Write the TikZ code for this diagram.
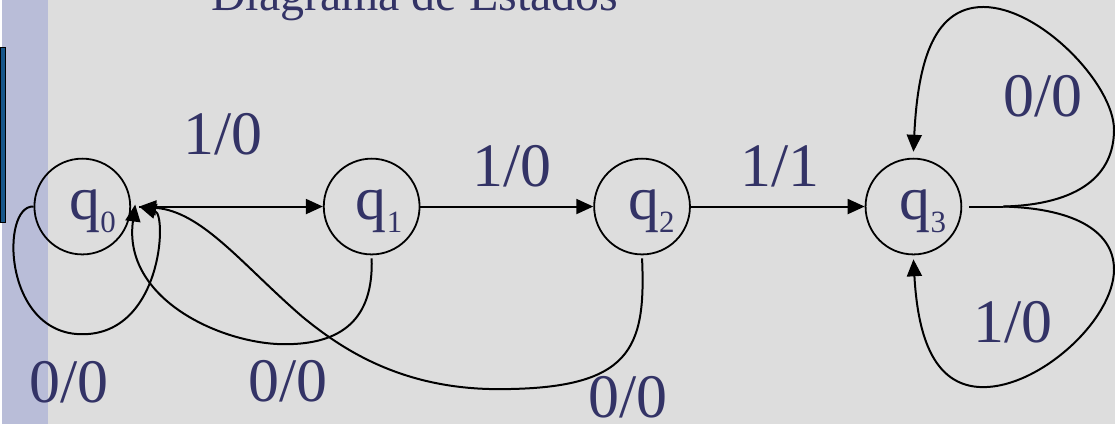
\documentclass[tikz,border=0pt]{standalone}
\usepackage{fontspec}
\setmainfont{Liberation Serif}
\usetikzlibrary{arrows.meta}
\definecolor{bg}{RGB}{221,221,221}
\definecolor{strip}{RGB}{185,189,216}
\definecolor{navy}{RGB}{51,51,102}
\definecolor{barblue}{RGB}{22,86,138}
\newcommand\qsub[1]{q\raisebox{-14pt}{\fontsize{31}{31}\selectfont #1}}
\begin{document}
\begin{tikzpicture}[x=1pt,y=-1pt,
  state/.style={circle,draw=black,line width=1.8pt,minimum size=96pt,inner sep=0pt},
  stname/.style={anchor=base west,inner sep=0pt,text=navy,font=\fontsize{62}{62}\selectfont},
  lbl/.style={anchor=base,inner sep=0pt,text=navy,font=\fontsize{62}{62}\selectfont},
  edge/.style={draw=black,line width=2pt,-{Triangle[length=17pt,width=15pt]}},
  plain/.style={draw=black,line width=2pt},
  ]
\fill[bg] (0,0) rectangle (1115,425);
\fill[strip] (0,0) rectangle (46,425);
\filldraw[fill=barblue,draw=black,line width=1pt] (-2,48) rectangle (3.5,223);
\useasboundingbox (0,0) rectangle (1115,425);
\clip (0,0) rectangle (1115,425);

\node[anchor=base west,inner sep=0pt,text=navy,font=\fontsize{48}{48}\selectfont] (title) at (209,11) {Diagrama de Estados};

\node[state] (q0) at (80,207) {};
\node[state] (q1) at (370,207) {};
\node[state] (q2) at (641,207) {};
\node[state] (q3) at (913,207) {};
\node[stname] (q0n) at (67,219.5) {\qsub{0}};
\node[stname] (q1n) at (354,219.5) {\qsub{1}};
\node[stname] (q2n) at (627,219.5) {\qsub{2}};
\node[stname] (q3n) at (899,219.5) {\qsub{3}};

\coordinate (q0in) at (137,207);
\coordinate (q0in2) at (133,205);
\coordinate (q3s) at (1003,207);

% q0 -> q1
\draw[edge] (q0in) -- (q1.west);
% q1 -> q2, q2 -> q3
\draw[edge] (q1) -- (q2);
\draw[edge] (q2) -- (q3);
% q0 self loop
\draw[edge] (q0.west) .. controls (-2,205) and (0,335) .. (80,335)
  .. controls (160,335) and (165,215) .. (q0in);
% q1 -> q0
\draw[edge] ([yshift=-3pt]q1.south) .. controls (372,320) and (340,345) .. (283,345)
  .. controls (220,345) and (120,300) .. (q0in2);
% q2 -> q0
\draw[edge] ([yshift=-3pt]q2.south) .. controls (645,350) and (630,390) .. (497,390)
  .. controls (400,390) and (340,350) .. (300,317)
  .. controls (240,265) and (200,212) .. (q0in);
% q3 loops
\draw[plain] ([xshift=7pt]q3.east) -- (q3s);
\draw[edge] (q3s) .. controls (1080,205) and (1114,175) .. (1114,130)
  .. controls (1114,85) and (1040,7) .. (983,7)
  .. controls (930,7) and (917,70) .. ([yshift=6pt]q3.north);
\draw[edge] (q3s) .. controls (1080,209) and (1114,235) .. (1114,270)
  .. controls (1114,320) and (1040,388) .. (983,388)
  .. controls (930,388) and (917,330) .. ([yshift=-4pt]q3.south);

\node[lbl] (l01) at (221,155) {1/0};
\node[lbl] (l12) at (511,187) {1/0};
\node[lbl] (l23) at (779,187) {1/1};
\node[lbl] (l00) at (67,403) {0/0};
\node[lbl] (l10) at (286,402) {0/0};
\node[lbl] (l20) at (627,418) {0/0};
\node[lbl] (l33a) at (1043,117) {0/0};
\node[lbl] (l33b) at (1013,343) {1/0};
\end{tikzpicture}
\end{document}
